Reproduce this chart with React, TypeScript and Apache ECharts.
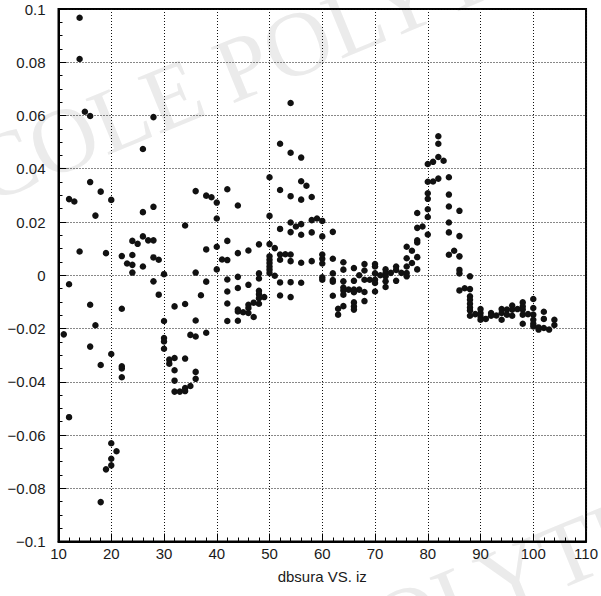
import React, { useEffect, useRef } from "react";
import * as echarts from "echarts";

// iz columns and the dbsura values measured at each column
const izValues = [
  11, 12, 13, 14, 15, 16, 17, 18, 19, 20, 21, 22, 23, 24, 25, 26, 27, 28, 29, 30,
  31, 32, 33, 34, 35, 36, 37, 38, 39, 40, 41, 42, 44, 45, 46, 47, 48, 49, 50, 51,
  52, 53, 54, 55, 56, 57, 58, 59, 60, 62, 63, 64, 65, 66, 67, 68, 69, 70, 71, 72,
  73, 74, 75, 76, 77, 78, 79, 80, 81, 82, 83, 84, 85, 86, 87, 88, 89, 90, 91, 92,
  93, 94, 95, 96, 97, 98, 99, 100, 101, 102, 103, 104,
];

const dbsuraValues: number[][] = [
  [-0.0222],
  [0.0286, -0.0034, -0.0533],
  [0.0277],
  [0.0967, 0.0812, 0.0089],
  [0.0614],
  [0.0598, 0.035, -0.0111, -0.0268],
  [0.0224, -0.0188],
  [0.0314, -0.0337, -0.0852],
  [0.0083, -0.0729],
  [0.0283, -0.0296, -0.0631, -0.0689, -0.0714],
  [-0.0661],
  [0.0072, -0.0126, -0.0342, -0.035, -0.0383],
  [0.0044],
  [0.0129, 0.0076, 0.0039, 0.001],
  [0.0118],
  [0.0474, 0.0237, 0.0146, 0.0033],
  [0.0131],
  [0.0594, 0.0257, 0.0131, 0.0067, -0.0023],
  [0.0058, -0.0073],
  [0.0004, -0.0172, -0.0236, -0.0249, -0.0276],
  [-0.0317, -0.0332],
  [-0.0117, -0.0311, -0.0357, -0.0396, -0.0437],
  [-0.0437],
  [0.0187, -0.0108, -0.0313, -0.0424, -0.0435],
  [-0.0224, -0.0416],
  [0.0316, 0.001, -0.017, -0.023, -0.0363, -0.0389],
  [-0.0075],
  [0.0299, 0.0097, -0.0024, -0.0216],
  [0.0293],
  [0.0273, 0.0213, 0.0107, 0.0022],
  [0.0059],
  [0.0323, 0.0129, 0.0057, -0.0016, -0.0061, -0.0106, -0.0172],
  [0.0262, 0.0083, -0.0006, -0.0048, -0.0129, -0.0136, -0.0171],
  [-0.0139],
  [0.0093, -0.0036, -0.0111, -0.0123, -0.0142],
  [-0.0103, -0.0157],
  [0.0116, 0.0007, -0.0012, -0.0058, -0.0071, -0.0086, -0.0107],
  [-0.0082],
  [0.0368, 0.0223, 0.0117, 0.0071, 0.0058, 0.0046, 0.0033, 0.0021, 0.0008],
  [0.0102, -0.0002],
  [0.0494, 0.032, 0.0174, 0.0078, 0.0058, -0.0027, -0.0076],
  [0.0079],
  [0.0647, 0.046, 0.0297, 0.0198, 0.0162, 0.0078, 0.0053, -0.0026, -0.0082],
  [0.0183],
  [0.0442, 0.0353, 0.0284, 0.0192, 0.0152, 0.0047, -0.0028],
  [0.0336],
  [0.0294, 0.0207, 0.0161, 0.0053],
  [0.0213],
  [0.0204, 0.0146, 0.0078, 0.0062, 0.0044, -0.0008, -0.0017],
  [0.0163, 0.0062, 0.0007, -0.0018, -0.0024, -0.0077],
  [-0.0126, -0.0148],
  [0.0049, 0.0021, -0.0023, -0.0046, -0.0057, -0.0073, -0.0116],
  [-0.0054],
  [0.0027, -0.0021, -0.0054, -0.0064, -0.0102, -0.0117, -0.0129],
  [0.0, -0.0054],
  [0.0042, 0.0018, -0.0017, -0.0063, -0.0097],
  [-0.0017],
  [0.0042, 0.0033, 0.0007, -0.0017, -0.0029, -0.0061],
  [0.0],
  [0.0022, 0.0008, -0.0004, -0.0023, -0.0044],
  [0.0009],
  [0.0033, 0.002, -0.0021],
  [0.0009],
  [0.0107, 0.0064, 0.0033, 0.0008, -0.0004],
  [0.0092, 0.0046],
  [0.0234, 0.0178, 0.0131, 0.0123, 0.0068, 0.0022],
  [0.0183],
  [0.0418, 0.0351, 0.0308, 0.0287, 0.0248, 0.0219, 0.0153],
  [0.0426, 0.0352],
  [0.0522, 0.0494, 0.0444, 0.0363],
  [0.043],
  [0.0368, 0.0303, 0.0258, 0.0198, 0.0161, 0.0077],
  [0.0092],
  [0.0242, 0.0147, 0.0071, 0.002, 0.0007, -0.0057],
  [-0.0049],
  [-0.0004, -0.0052, -0.0079, -0.0092, -0.0107, -0.0121, -0.0132, -0.0152],
  [-0.0146],
  [-0.0127, -0.0142, -0.0155, -0.0167],
  [-0.0164],
  [-0.0142, -0.0152],
  [-0.0151],
  [-0.0127, -0.0142, -0.0167],
  [-0.0129, -0.0148],
  [-0.0114, -0.0129, -0.0152],
  [-0.0127],
  [-0.0102, -0.0117, -0.0129, -0.0148, -0.0182],
  [-0.0146],
  [-0.0089, -0.0123, -0.0148, -0.0167, -0.0182, -0.0192],
  [-0.0196, -0.0204],
  [-0.0137, -0.0164, -0.0198],
  [-0.0204],
  [-0.0167, -0.0187],
];

const xRange = [10, 110];
const yRange = [-0.1, 0.1];
const xStep = 10;
const yStep = 0.02;
const titleText = "dbsura VS. iz";
const watermarkText = "ECOLE POLYTECHNIQUE";

export default function App() {
  const ref = useRef<HTMLDivElement>(null);

  useEffect(() => {
    if (!ref.current) return;
    const chart = echarts.init(ref.current, undefined, { renderer: "svg" });

    const points: number[][] = [];
    izValues.forEach((iz, i) => {
      (dbsuraValues[i] || []).forEach((v) => points.push([iz, v]));
    });

    const fontFamily = "'Liberation Sans', Arial, sans-serif";
    const fmt = (v: number) => {
      const s = String(+v.toFixed(3));
      return s.replace("-", "\u2212");
    };
    const wmFont = "92px 'Liberation Serif', 'DejaVu Serif', serif";

    chart.setOption({
      animation: false,
      backgroundColor: "#ffffff",
      graphic: [
        {
          type: "text",
          x: -76,
          y: 197,
          rotation: 0.39,
          z: -10,
          silent: true,
          style: {
            text: watermarkText,
            font: wmFont,
            fill: "#ebebeb",
            verticalAlign: "middle",
            align: "left",
          },
        },
        {
          type: "text",
          x: 34,
          y: 772,
          rotation: 0.39,
          z: -10,
          silent: true,
          style: {
            text: watermarkText,
            font: wmFont,
            fill: "#ebebeb",
            verticalAlign: "middle",
            align: "left",
          },
        },
      ],
      grid: {
        left: 58.5,
        right: 9.5,
        top: 9,
        bottom: 54.5,
        show: true,
        borderColor: "#000",
        borderWidth: 2,
        backgroundColor: "transparent",
      },
      xAxis: {
        type: "value",
        min: xRange[0],
        max: xRange[1],
        interval: xStep,
        name: titleText,
        nameLocation: "middle",
        nameGap: 27,
        nameTextStyle: { fontFamily, fontSize: 15, color: "#1a1a1a" },
        axisLine: { show: true, onZero: false, lineStyle: { color: "#000", width: 2 } },
        axisTick: { show: true, inside: true, length: 8, lineStyle: { color: "#000", width: 1 } },
        minorTick: { show: true, splitNumber: 5, length: 4, lineStyle: { color: "#000", width: 1 } },
        axisLabel: {
          show: true,
          margin: 4,
          fontFamily,
          fontSize: 15,
          color: "#1a1a1a",
          showMinLabel: true,
          showMaxLabel: true,
          hideOverlap: false,
          formatter: (v: number) => fmt(v),
        },
        splitLine: { show: true, lineStyle: { type: [1, 2], color: "#111", width: 1 } },
      },
      yAxis: {
        type: "value",
        min: yRange[0],
        max: yRange[1],
        interval: yStep,
        axisLine: { show: true, onZero: false, lineStyle: { color: "#000", width: 2 } },
        axisTick: { show: true, inside: true, length: 8, lineStyle: { color: "#000", width: 1 } },
        minorTick: { show: true, splitNumber: 4, length: 4, lineStyle: { color: "#000", width: 1 } },
        axisLabel: {
          show: true,
          margin: 13,
          fontFamily,
          fontSize: 15,
          color: "#1a1a1a",
          showMinLabel: true,
          showMaxLabel: true,
          formatter: (v: number) => fmt(v),
        },
        splitLine: { show: true, lineStyle: { type: [1, 2], color: "#111", width: 1 } },
      },
      series: [
        {
          type: "scatter",
          data: points,
          symbol: "circle",
          symbolSize: 6.5,
          itemStyle: { color: "#111", opacity: 1 },
          z: 5,
        },
      ],
    });

    return () => chart.dispose();
  }, []);

  return (
    <div
      ref={ref}
      style={{ position: "fixed", left: 0, top: 0, width: 601, height: 596, background: "#fff" }}
    />
  );
}
